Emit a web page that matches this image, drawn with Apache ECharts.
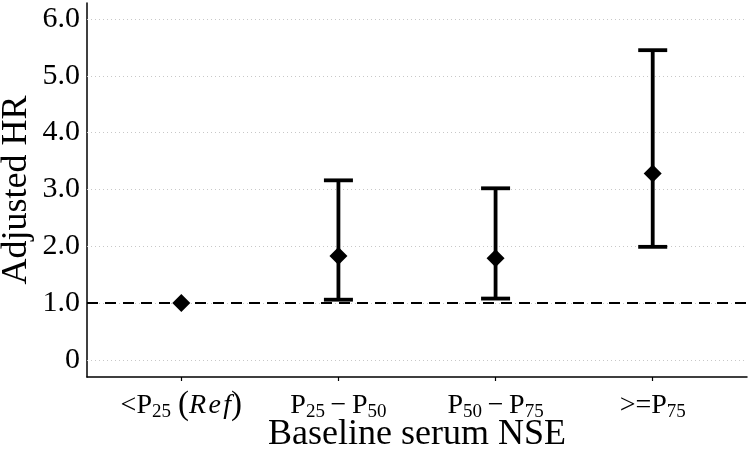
<!DOCTYPE html>
<html>
<head>
<meta charset="utf-8">
<script src="https://cdn.jsdelivr.net/npm/echarts@6/dist/echarts.min.js"></script>
<style>html,body{margin:0;padding:0;background:#fff;}#main{width:750px;height:459px;}</style>
</head>
<body>
<div id="main"></div>
<script>
// Data
var categories = ['<P25 (Ref)', 'P25 - P50', 'P50 - P75', '>=P75'];
var categoryLabels = [
  '{n|<P}{s|25}{n| }{p|(}{i|R\u200Ae\u200Af}{p|)}',
  '{n|P}{s|25}{n|\u2009\u2212\u2009P}{s|50}',
  '{n|P}{s|50}{n|\u2009\u2212\u2009P}{s|75}',
  '{n|>=P}{s|75}'
];
var hr = [1.0, 1.83, 1.79, 3.28];
var lower = [null, 1.06, 1.08, 1.99];
var upper = [null, 3.16, 3.02, 5.45];
var yTicks = [0, 1, 2, 3, 4, 5, 6];
var yTickLabels = ['0', '1.0', '2.0', '3.0', '4.0', '5.0', '6.0'];
var refLine = 1.0;

var FONT = '"Liberation Serif", "Times New Roman", serif';

var points = hr.map(function (v, i) { return [i, v]; });
var errData = [];
for (var i = 0; i < categories.length; i++) {
  if (lower[i] != null) errData.push([i, lower[i], upper[i]]);
}

var chart = echarts.init(document.getElementById('main'));
chart.setOption({
  animation: false,
  backgroundColor: '#fff',
  grid: { left: 87, right: 3, top: 3, bottom: 82, containLabel: false, outerBoundsMode: 'none' },
  xAxis: {
    type: 'value',
    min: -0.6,
    max: 3.6,
    splitLine: { show: false },
    axisLine: { show: true, onZero: false, lineStyle: { color: '#000', width: 1.5 } },
    axisTick: { show: true, customValues: [0, 1, 2, 3], length: 4, lineStyle: { color: '#000', width: 1.2 } },
    axisLabel: {
      customValues: [0, 1, 2, 3],
      margin: 12,
      formatter: function (v) { return categoryLabels[Math.round(v)]; },
      rich: {
        n: { fontFamily: FONT, fontSize: 28, color: '#000' },
        s: { fontFamily: FONT, fontSize: 19, color: '#000', padding: [14, 0, 0, 0] },
        p: { fontFamily: FONT, fontSize: 33, color: '#000' },
        i: { fontFamily: FONT, fontSize: 28, fontStyle: 'italic', color: '#000' }
      }
    },
    name: 'Baseline serum NSE',
    nameLocation: 'middle',
    nameGap: 40,
    nameMoveOverlap: false,
    nameTextStyle: { fontFamily: FONT, fontSize: 36, color: '#000' }
  },
  yAxis: {
    type: 'value',
    min: -0.3,
    max: 6.28,
    splitLine: { show: false },
    axisLine: { show: true, onZero: false, lineStyle: { color: '#000', width: 1.5 } },
    axisTick: { show: false },
    axisLabel: {
      customValues: yTicks,
      margin: 7,
      fontFamily: FONT,
      fontSize: 30,
      color: '#000',
      formatter: function (v) { return yTickLabels[yTicks.indexOf(Math.round(v))]; }
    },
    name: 'Adjusted HR',
    nameLocation: 'middle',
    nameGap: 52,
    nameMoveOverlap: false,
    nameTextStyle: { fontFamily: FONT, fontSize: 36, color: '#000' }
  },
  series: [
    {
      type: 'line',
      data: [],
      silent: true,
      z: 1,
      markLine: {
        silent: true,
        symbol: 'none',
        label: { show: false },
        lineStyle: { color: '#c8c8c8', width: 1, type: [1, 3] },
        data: yTicks.map(function (t) { return { yAxis: t }; })
      }
    },
    {
      type: 'line',
      data: [],
      silent: true,
      z: 3,
      markLine: {
        silent: true,
        symbol: 'none',
        label: { show: false },
        lineStyle: { color: '#000', width: 2, type: [11, 7] },
        data: [{ yAxis: refLine }]
      }
    },
    {
      type: 'custom',
      z: 6,
      data: errData,
      renderItem: function (params, api) {
        var x = api.value(0);
        var lo = api.coord([x, api.value(1)]);
        var hi = api.coord([x, api.value(2)]);
        var hw = 14.5;
        var style = { stroke: '#000', lineWidth: 3.8 };
        return {
          type: 'group',
          children: [
            { type: 'line', shape: { x1: lo[0], y1: lo[1], x2: hi[0], y2: hi[1] }, style: style },
            { type: 'line', shape: { x1: lo[0] - hw, y1: lo[1], x2: lo[0] + hw, y2: lo[1] }, style: style },
            { type: 'line', shape: { x1: hi[0] - hw, y1: hi[1], x2: hi[0] + hw, y2: hi[1] }, style: style }
          ]
        };
      }
    },
    {
      type: 'scatter',
      z: 7,
      data: points,
      symbol: 'diamond',
      symbolSize: [18, 18],
      itemStyle: { color: '#000', opacity: 1 }
    }
  ]
});
</script>
</body>
</html>
